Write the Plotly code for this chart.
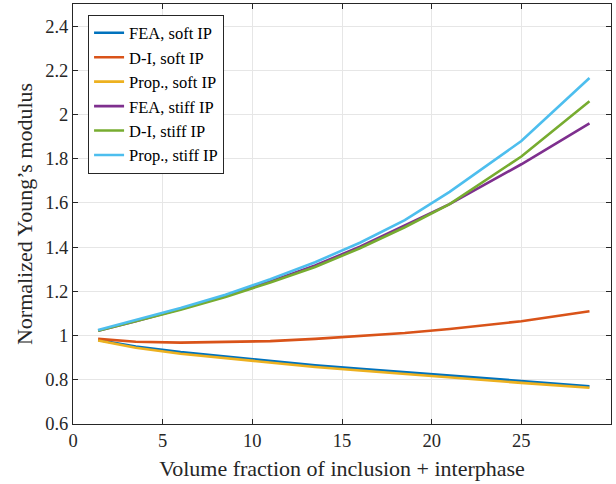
import plotly.graph_objects as go

x = [1.4, 3.5, 6, 8.5, 11, 13.5, 16, 18.5, 21, 25, 28.8]
fea_soft = [0.980, 0.950, 0.925, 0.905, 0.885, 0.866, 0.850, 0.835, 0.821, 0.796, 0.771]
di_soft = [0.985, 0.972, 0.968, 0.970, 0.975, 0.985, 0.997, 1.012, 1.030, 1.065, 1.110]
prop_soft = [0.978, 0.945, 0.918, 0.897, 0.877, 0.858, 0.842, 0.826, 0.811, 0.786, 0.764]
fea_stiff = [1.022, 1.065, 1.120, 1.180, 1.245, 1.317, 1.402, 1.497, 1.595, 1.775, 1.960]
di_stiff = [1.022, 1.064, 1.117, 1.175, 1.240, 1.310, 1.395, 1.490, 1.595, 1.810, 2.060]
prop_stiff = [1.025, 1.070, 1.125, 1.185, 1.255, 1.332, 1.420, 1.522, 1.650, 1.880, 2.165]

series = [
    ("FEA, soft IP", fea_soft, "#0072BD"),
    ("D-I, soft IP", di_soft, "#D95319"),
    ("Prop., soft IP", prop_soft, "#EDB120"),
    ("FEA, stiff IP", fea_stiff, "#7E2F8E"),
    ("D-I, stiff IP", di_stiff, "#77AC30"),
    ("Prop., stiff IP", prop_stiff, "#4DBEEE"),
]

xticks = [0, 5, 10, 15, 20, 25, 30]
yticks = [0.6, 0.8, 1.0, 1.2, 1.4, 1.6, 1.8, 2.0, 2.2, 2.4]
ytick_labels = ["0.6", "0.8", "1", "1.2", "1.4", "1.6", "1.8", "2", "2.2", "2.4"]

fig = go.Figure()
for name, ys, col in series:
    fig.add_trace(go.Scatter(x=x, y=ys, mode="lines", name=name,
                             line=dict(color=col, width=2.6)))

font = "Liberation Serif"
axis_common = dict(
    showline=True, linecolor="#262626", linewidth=1, mirror="ticks",
    ticks="inside", ticklen=5, tickcolor="#262626",
    showgrid=True, gridcolor="#e6e6e6", gridwidth=1, zeroline=False,
    tickfont=dict(family=font, size=18.5, color="#262626"),
)
fig.update_layout(
    width=616, height=484,
    margin=dict(l=73, r=5, t=4, b=60),
    paper_bgcolor="white", plot_bgcolor="white",
    font=dict(family=font, color="#262626"),
    showlegend=True,
    legend=dict(x=0.028, y=0.975, xanchor="left", yanchor="top",
                bgcolor="white", bordercolor="#262626", borderwidth=1,
                font=dict(family=font, size=16.5, color="#000000"),
                tracegroupgap=0, itemwidth=30),
    xaxis=dict(range=[0, 30], tickvals=xticks,
               title=dict(text="Volume fraction of inclusion + interphase",
                          font=dict(family=font, size=22, color="#262626"), standoff=10),
               **axis_common),
    yaxis=dict(range=[0.6, 2.5], tickvals=yticks, ticktext=ytick_labels,
               title=dict(text="Normalized Young\u2019s modulus",
                          font=dict(family=font, size=22, color="#262626"), standoff=6),
               **axis_common),
)
fig.write_html("out.html")
